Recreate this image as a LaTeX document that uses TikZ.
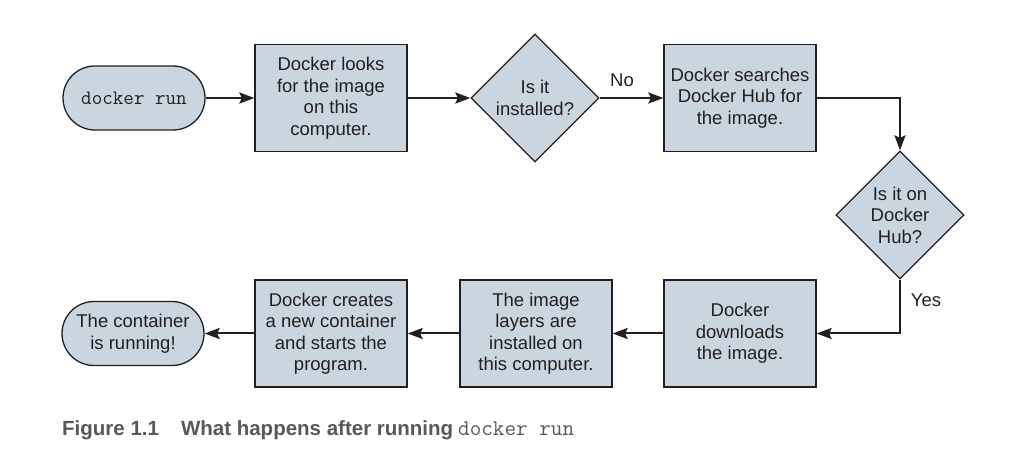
\documentclass[tikz,border=0pt]{standalone}
\usepackage{fontspec}
\setmainfont{Liberation Sans}
\usetikzlibrary{shapes.geometric,arrows.meta}
\definecolor{boxfill}{RGB}{201,214,223}
\definecolor{boxline}{RGB}{35,31,32}
\definecolor{captxt}{RGB}{88,88,90}
\tikzset{
  base/.style={draw=boxline, line width=1.3pt, fill=boxfill, text=boxline, align=center,
    font=\fontsize{18.5}{21.5}\selectfont, inner sep=0pt},
  stepbox/.style={base, rectangle, minimum width=152pt, minimum height=107pt},
  pill/.style={base, rectangle, rounded corners=32pt, minimum width=142pt, minimum height=64pt},
  decision/.style={base, diamond, aspect=1, minimum width=128pt, minimum height=128pt},
  conn/.style={draw=boxline, line width=2pt, -{Stealth[length=15pt,width=11pt,inset=2.5pt]}},
  lbl/.style={text=boxline, font=\fontsize{18.5}{21.5}\selectfont, inner sep=0pt}
}
\begin{document}
\begin{tikzpicture}[x=1pt,y=-1pt]
\useasboundingbox (0,0) rectangle (1029,457);
\node[pill] (start) at (134,98) {\fontsize{20.5}{21.5}\selectfont\ttfamily docker run};
\node[stepbox] (look) at (331,98) {Docker looks\\for the image\\on this\\computer.};
\node[decision] (inst) at (535,98) {Is it\\installed?};
\node[stepbox] (search) at (740,98) {Docker searches\\Docker Hub for\\the image.};
\node[decision] (hub) at (900,215) {Is it on\\Docker\\Hub?};
\node[stepbox] (down) at (740,333.5) {Docker\\downloads\\the image.};
\node[stepbox] (layers) at (536,333.5) {The image\\layers are\\installed on\\this computer.};
\node[stepbox] (create) at (331,333.5) {Docker creates\\a new container\\and starts the\\program.};
\node[pill] (done) at (133,333.5) {The container\\is running!};
\node[lbl] (no) at (622,80) {No};
\node[lbl] (yes) at (926,300) {Yes};
\draw[conn] (start.east) -- (look.west);
\draw[conn] (look.east) -- (inst.west);
\draw[conn] (inst.east) -- (search.west);
\draw[conn] (search.east) -| (hub.north);
\draw[conn] (hub.south) |- (down.east);
\draw[conn] (down.west) -- (layers.east);
\draw[conn] (layers.west) -- (create.east);
\draw[conn] (create.west) -- (done.east);
\node[anchor=base west, inner sep=0pt, text=captxt, font=\fontsize{20.5}{22}\selectfont\bfseries] (cap) at (62,435)
  {Figure 1.1\hspace{22pt}What happens after running\hspace{5pt}{\mdseries\fontsize{22.5}{22}\selectfont\ttfamily docker run}};
\end{tikzpicture}
\end{document}
